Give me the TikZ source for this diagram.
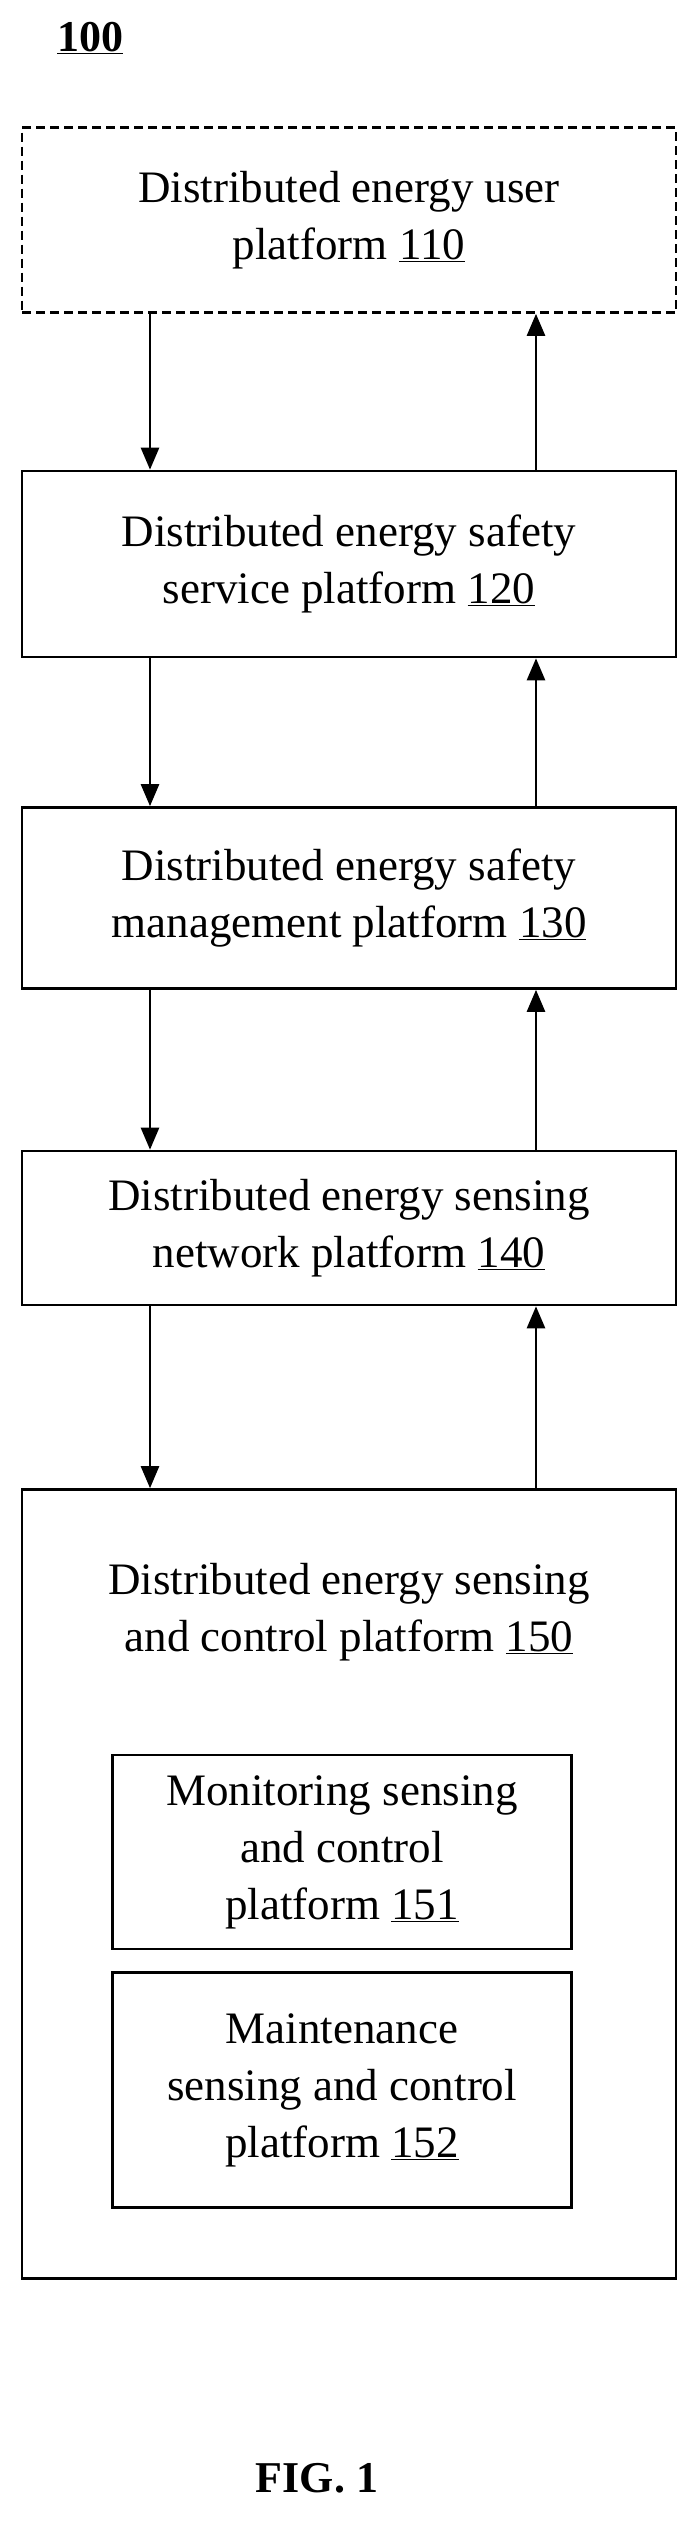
\documentclass[tikz,border=0pt]{standalone}
\usepackage{fontspec}
\setmainfont{Liberation Serif}
\usetikzlibrary{arrows.meta}
\begin{document}
\begin{tikzpicture}[x=1pt,y=-1pt,
    plat/.style={draw,line width=2.6pt,align=center,font=\fontsize{45}{57}\selectfont},
    flow/.style={-{Triangle[length=22pt,width=18pt]},line width=2.6pt}]
\useasboundingbox (0,0) rectangle (691,2548);
\node[font=\fontsize{44}{50}\selectfont\bfseries] (TITLE) at (90,38) {\underline{100}};
\node[plat,dash pattern=on 9pt off 5pt,minimum width=654pt,minimum height=185pt] (USER) at (349,220) {Distributed energy user\\platform \underline{110}};
\node[plat,minimum width=654pt,minimum height=186pt] (SERV) at (349,564) {Distributed energy safety\\service platform \underline{120}};
\node[plat,minimum width=654pt,minimum height=181pt] (MANA) at (349,898) {Distributed energy safety\\management platform \underline{130}};
\node[plat,minimum width=654pt,minimum height=154pt] (NETW) at (349,1228) {Distributed energy sensing\\network platform \underline{140}};
\node[draw,line width=2.6pt,minimum width=654pt,minimum height=789pt] (CTRL) at (349,1884) {};
\node[align=center,font=\fontsize{45}{57}\selectfont] (CTRLT) at (349,1612) {Distributed energy sensing\\and control platform \underline{150}};
\node[plat,minimum width=459pt,minimum height=194pt] (MONI) at (342,1852) {Monitoring sensing\\and control\\platform \underline{151}};
\node[plat,minimum width=459pt,minimum height=235pt] (MAIN) at (342,2090) {Maintenance\\sensing and control\\platform \underline{152}};
\node[font=\fontsize{44}{50}\selectfont\bfseries] (FIG) at (317,2478) {FIG. 1};
\draw[flow] (USER.south -| 150,0) -- (SERV.north -| 150,0);
\draw[flow] (SERV.north -| 536,0) -- (USER.south -| 536,0);
\draw[flow] (SERV.south -| 150,0) -- (MANA.north -| 150,0);
\draw[flow] (MANA.north -| 536,0) -- (SERV.south -| 536,0);
\draw[flow] (MANA.south -| 150,0) -- (NETW.north -| 150,0);
\draw[flow] (NETW.north -| 536,0) -- (MANA.south -| 536,0);
\draw[flow] (NETW.south -| 150,0) -- (CTRL.north -| 150,0);
\draw[flow] (CTRL.north -| 536,0) -- (NETW.south -| 536,0);
\end{tikzpicture}
\end{document}
